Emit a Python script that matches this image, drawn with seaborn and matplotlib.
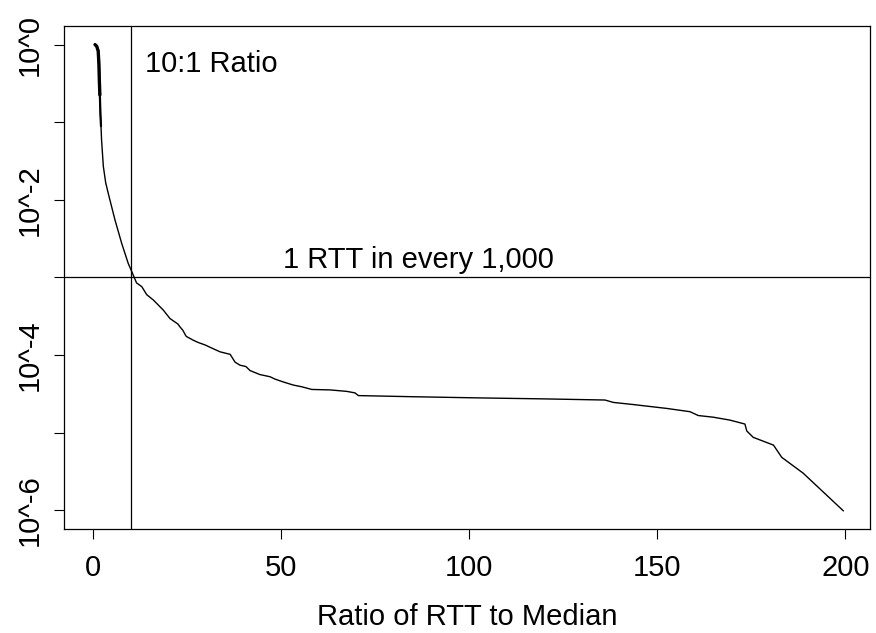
import matplotlib
matplotlib.use("Agg")
import matplotlib.pyplot as plt
import seaborn as sns
import pandas as pd
from matplotlib.ticker import FixedLocator, FixedFormatter, NullLocator

# ---- data (CCDF of RTT / median ratio) ----
ratio = [0.45, 0.9, 1.3, 1.5, 1.6, 1.75, 1.9, 2.05, 2.2, 2.67, 3.3, 4.0, 5.77,
         7.55, 9.3, 10.2, 11.5, 12.9, 14.2, 16.0, 17.3, 18.6, 20.4, 22.5, 23.1,
         23.8, 24.7, 26.6, 27.9, 29.7, 31.5, 33.7, 36.4, 37.7, 39.0, 40.6, 41.7,
         44.3, 47.0, 48.3, 50.5, 53.2, 55.4, 58.1, 63.0, 67.4, 69.6, 70.5, 85.1,
         102.8, 120.0, 136.1, 138.3, 143.6, 152.5, 158.7, 160.9, 164.9, 169.3,
         173.3, 173.8, 175.5, 180.9, 183.1, 188.8, 199.5]
ccdf = [1.0, 0.955, 0.83, 0.56, 0.355, 0.224, 0.126, 0.089, 0.059, 0.027,
        0.0166, 0.012, 0.0055, 0.00275, 0.00151, 0.0012, 0.00085, 0.00076,
        0.0006, 0.00051, 0.00044, 0.00038, 0.000295, 0.000251, 0.000229,
        0.000209, 0.000174, 0.000155, 0.000145, 0.000135, 0.000123, 0.00011,
        0.000102, 8.1e-5, 7.4e-5, 7.1e-5, 6.3e-5, 5.6e-5, 5.25e-5, 4.9e-5,
        4.5e-5, 4.1e-5, 3.9e-5, 3.6e-5, 3.55e-5, 3.4e-5, 3.25e-5, 3.0e-5,
        2.9e-5, 2.8e-5, 2.72e-5, 2.63e-5, 2.45e-5, 2.3e-5, 2.05e-5, 1.86e-5,
        1.66e-5, 1.58e-5, 1.45e-5, 1.29e-5, 1.05e-5, 8.7e-6, 6.9e-6, 4.8e-6,
        3.0e-6, 9.8e-7]

x_ticks = [0, 50, 100, 150, 200]
x_tick_labels = ["0", "50", "100", "150", "200"]
y_ticks = [1e0, 1e-1, 1e-2, 1e-3, 1e-4, 1e-5, 1e-6]
y_tick_labels = ["10^0", "", "10^-2", "", "10^-4", "", "10^-6"]

ratio_line = 10          # 10:1 ratio marker
rate_line = 1e-3         # 1 RTT in every 1,000
x_label = "Ratio of RTT to Median"
ratio_text = "10:1 Ratio"
rate_text = "1 RTT in every 1,000"

# ---- style ----
sns.set_theme(style="white")
plt.rcParams["font.family"] = ["Liberation Sans", "DejaVu Sans"]
plt.rcParams["axes.unicode_minus"] = False
FS = 21

fig = plt.figure(figsize=(8.76, 6.33), dpi=100)
W, H = 876, 633
ax = fig.add_axes([64 / W, 1 - 529 / H, (870 - 64) / W, (529 - 26) / H])

df = pd.DataFrame({"ratio": ratio, "ccdf": ccdf})
sns.lineplot(data=df, x="ratio", y="ccdf", ax=ax, color="black", lw=1.0,
             sort=False, estimator=None)
# dense (overplotted) head of the distribution looks thicker in the original
sns.lineplot(data=df.iloc[:8], x="ratio", y="ccdf", ax=ax, color="black",
             lw=1.6, sort=False, estimator=None)
sns.lineplot(data=df.iloc[:6], x="ratio", y="ccdf", ax=ax, color="black",
             lw=2.4, sort=False, estimator=None)

ax.axvline(ratio_line, color="black", lw=0.9)
ax.axhline(rate_line, color="black", lw=0.9)

ax.set_yscale("log")
ax.set_xlim(-7.79, 206.57)
ax.set_ylim(10 ** -6.242, 10 ** 0.2397)

ax.xaxis.set_major_locator(FixedLocator(x_ticks))
ax.xaxis.set_major_formatter(FixedFormatter(x_tick_labels))
ax.yaxis.set_major_locator(FixedLocator(y_ticks))
ax.yaxis.set_major_formatter(FixedFormatter(y_tick_labels))
ax.yaxis.set_minor_locator(NullLocator())
ax.xaxis.set_minor_locator(NullLocator())

ax.tick_params(axis="both", which="major", direction="out", length=7.2,
               width=0.8, color="black", labelsize=FS, labelcolor="black",
               left=True, bottom=True)
ax.tick_params(axis="x", pad=11)
ax.tick_params(axis="y", pad=7.7)
for lab in ax.get_yticklabels():
    lab.set_rotation(90)
    lab.set_va("center")

for s in ax.spines.values():
    s.set_visible(True)
    s.set_color("black")
    s.set_linewidth(0.9)

ax.set_xlabel(x_label, fontsize=FS, color="black", labelpad=15)
ax.set_ylabel("")

ax.text(13.8, 0.45, ratio_text, fontsize=FS, color="black",
        ha="left", va="baseline")
ax.text(50.5, 1.31e-3, rate_text, fontsize=FS, color="black",
        ha="left", va="baseline")

fig.savefig("out.png", dpi=100, facecolor="white")
